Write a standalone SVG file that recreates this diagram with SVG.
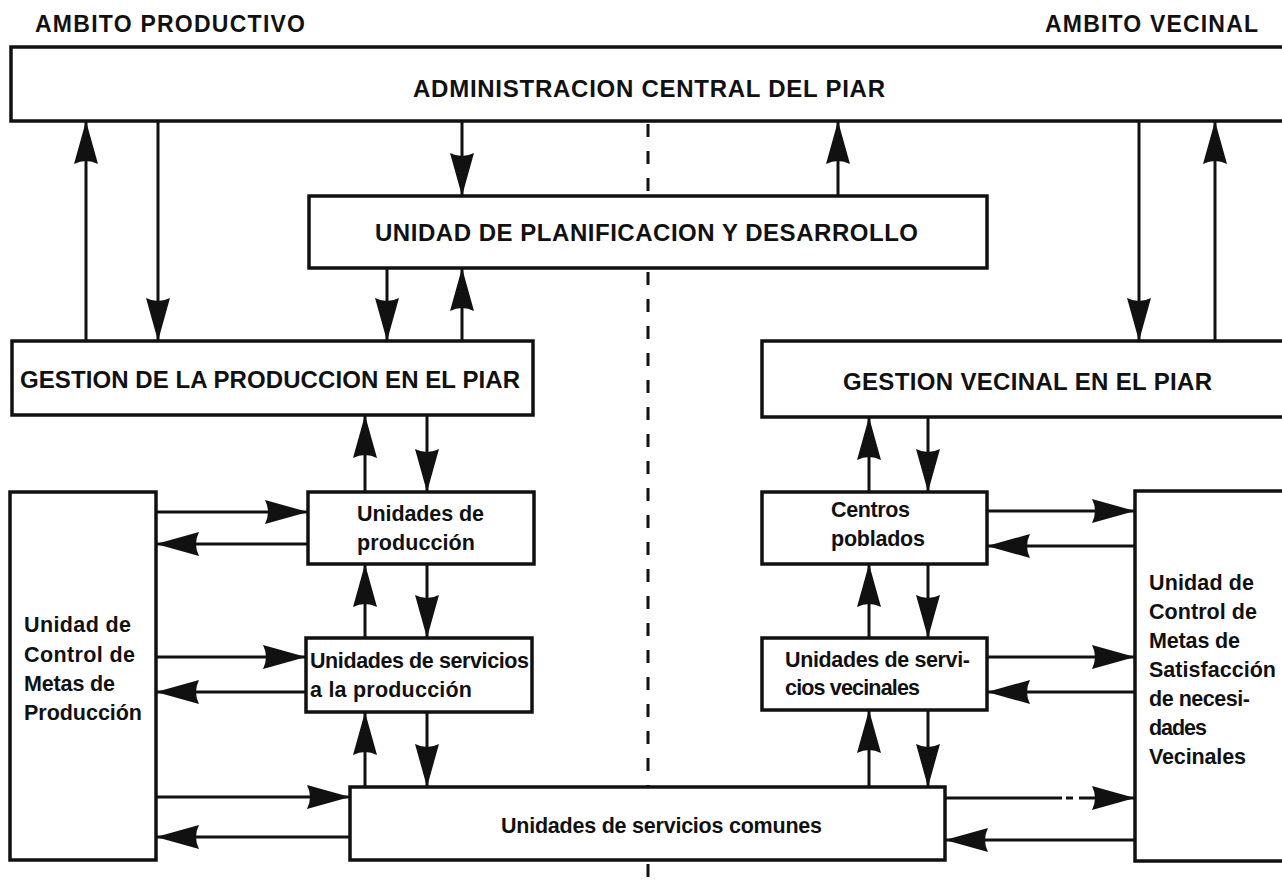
<svg xmlns="http://www.w3.org/2000/svg" width="1282" height="891" viewBox="0 0 1282 891">
<style>
.box{fill:#fff;stroke:#111;stroke-width:3.5}
.c{stroke:#111;stroke-width:3;fill:none}
.ar{marker-end:url(#ah)}
.cap{font-family:"Liberation Sans",Arial,sans-serif;font-weight:bold;font-size:24px;fill:#111}
.hd{font-family:"Liberation Sans",Arial,sans-serif;font-weight:bold;font-size:23px;fill:#111}
.lc{font-family:"Liberation Sans",Arial,sans-serif;font-weight:bold;font-size:21.5px;fill:#111}
.dash{stroke:#111;stroke-width:3;stroke-dasharray:13 14;fill:none}
</style>
<defs>
<marker id="ah" markerWidth="46" markerHeight="26" refX="43" refY="12" orient="auto" markerUnits="userSpaceOnUse" overflow="visible">
<path d="M0,0 L43,12 L0,24 Q6,12 0,0 Z" fill="#111"/>
</marker>
</defs>
<rect width="1282" height="891" fill="#fff"/>

<text class="hd" x="35" y="32" textLength="270">AMBITO PRODUCTIVO</text>
<text class="hd" x="1045" y="32" textLength="213">AMBITO VECINAL</text>

<g id="dashed-divider">
<line class="dash" x1="648" y1="124" x2="648" y2="196"/>
<line class="dash" x1="648" y1="272" x2="648" y2="787"/>
<line class="dash" x1="648" y1="864" x2="648" y2="891"/>
</g>

<g id="connectors">
<line class="c ar" x1="86" y1="341" x2="86" y2="121"/>
<line class="c ar" x1="158" y1="121" x2="158" y2="341"/>
<line class="c ar" x1="462" y1="121" x2="462" y2="196"/>
<line class="c ar" x1="838" y1="196" x2="838" y2="121"/>
<line class="c ar" x1="1139" y1="121" x2="1139" y2="341"/>
<line class="c ar" x1="1215" y1="341" x2="1215" y2="121"/>
<line class="c ar" x1="387" y1="268" x2="387" y2="341"/>
<line class="c ar" x1="462" y1="341" x2="462" y2="268"/>
<line class="c ar" x1="365" y1="492" x2="365" y2="415"/>
<line class="c ar" x1="427" y1="415" x2="427" y2="492"/>
<line class="c ar" x1="365" y1="638" x2="365" y2="564"/>
<line class="c ar" x1="427" y1="564" x2="427" y2="638"/>
<line class="c ar" x1="365" y1="787" x2="365" y2="712"/>
<line class="c ar" x1="427" y1="712" x2="427" y2="787"/>
<line class="c ar" x1="869" y1="492" x2="869" y2="417"/>
<line class="c ar" x1="928" y1="417" x2="928" y2="492"/>
<line class="c ar" x1="869" y1="638" x2="869" y2="564"/>
<line class="c ar" x1="928" y1="564" x2="928" y2="638"/>
<line class="c ar" x1="869" y1="787" x2="869" y2="710"/>
<line class="c ar" x1="928" y1="710" x2="928" y2="787"/>
<line class="c ar" x1="156" y1="512" x2="308" y2="512"/>
<line class="c ar" x1="308" y1="544" x2="156" y2="544"/>
<line class="c ar" x1="156" y1="657" x2="306" y2="657"/>
<line class="c ar" x1="306" y1="692" x2="156" y2="692"/>
<line class="c ar" x1="156" y1="797" x2="350" y2="797"/>
<line class="c ar" x1="350" y1="837" x2="156" y2="837"/>
<line class="c ar" x1="987" y1="511" x2="1135" y2="511"/>
<line class="c ar" x1="1135" y1="546" x2="987" y2="546"/>
<line class="c ar" x1="987" y1="657" x2="1135" y2="657"/>
<line class="c ar" x1="1135" y1="692" x2="987" y2="692"/>
<line class="c" x1="945" y1="798" x2="1062" y2="798"/>
<line class="c" x1="1066" y1="798" x2="1073" y2="798"/>
<line class="c ar" x1="1079" y1="798" x2="1135" y2="798"/>
<line class="c ar" x1="1135" y1="840" x2="945" y2="840"/>
</g>

<g id="admin-central">
<rect class="box" x="11" y="47" width="1290" height="74"/>
<text class="cap" x="413" y="97" textLength="472">ADMINISTRACION CENTRAL DEL PIAR</text>
</g>
<g id="unidad-planificacion">
<rect class="box" x="309" y="196" width="678" height="72"/>
<text class="cap" x="375" y="241" textLength="543">UNIDAD DE PLANIFICACION Y DESARROLLO</text>
</g>
<g id="gestion-produccion">
<rect class="box" x="12" y="341" width="521" height="74"/>
<text class="cap" x="20" y="388" textLength="500">GESTION DE LA PRODUCCION EN EL PIAR</text>
</g>
<g id="gestion-vecinal">
<rect class="box" x="762" y="341" width="540" height="76"/>
<text class="cap" x="843" y="390" textLength="369">GESTION VECINAL EN EL PIAR</text>
</g>
<g id="control-produccion">
<rect class="box" x="10" y="492" width="146" height="368"/>
<text class="lc" x="24" y="632" textLength="107">Unidad de</text>
<text class="lc" x="24" y="662" textLength="111">Control de</text>
<text class="lc" x="24" y="691" textLength="91">Metas de</text>
<text class="lc" x="24" y="720" textLength="118">Producción</text>
</g>
<g id="unidades-produccion">
<rect class="box" x="308" y="492" width="226" height="72"/>
<text class="lc" x="357" y="521" textLength="127">Unidades de</text>
<text class="lc" x="357" y="550" textLength="118">producción</text>
</g>
<g id="servicios-produccion">
<rect class="box" x="306" y="638" width="226" height="74"/>
<text class="lc" x="310" y="668" textLength="219">Unidades de servicios</text>
<text class="lc" x="310" y="697" textLength="162">a la producción</text>
</g>
<g id="servicios-comunes">
<rect class="box" x="350" y="787" width="595" height="73"/>
<text class="lc" x="501" y="833" textLength="321">Unidades de servicios comunes</text>
</g>
<g id="centros-poblados">
<rect class="box" x="762" y="492" width="225" height="72"/>
<text class="lc" x="831" y="517" textLength="79">Centros</text>
<text class="lc" x="831" y="546" textLength="94">poblados</text>
</g>
<g id="servicios-vecinales">
<rect class="box" x="762" y="638" width="225" height="72"/>
<text class="lc" x="785" y="667" textLength="185">Unidades de servi-</text>
<text class="lc" x="785" y="695" textLength="135">cios vecinales</text>
</g>
<g id="control-vecinal">
<rect class="box" x="1135" y="491" width="170" height="370"/>
<text class="lc" x="1149" y="590" textLength="105">Unidad de</text>
<text class="lc" x="1149" y="619" textLength="108">Control de</text>
<text class="lc" x="1149" y="648" textLength="91">Metas de</text>
<text class="lc" x="1149" y="677" textLength="127">Satisfacción</text>
<text class="lc" x="1149" y="706" textLength="101">de necesi-</text>
<text class="lc" x="1149" y="735" textLength="58">dades</text>
<text class="lc" x="1149" y="764" textLength="97">Vecinales</text>
</g>
</svg>
